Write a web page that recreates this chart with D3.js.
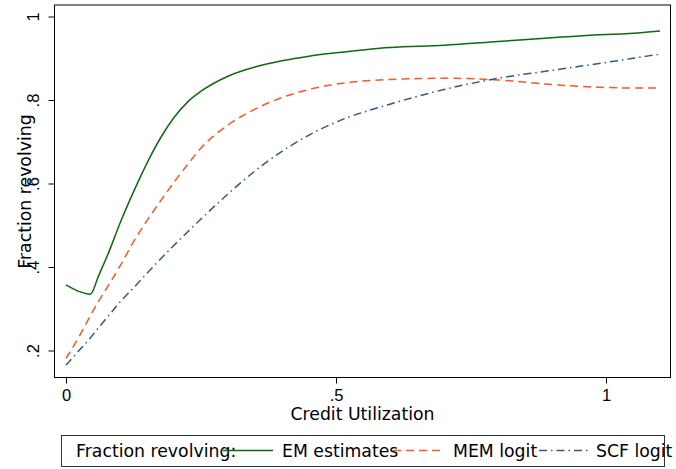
<!DOCTYPE html>
<html>
<head>
<meta charset="utf-8">
<script src="https://cdn.jsdelivr.net/npm/d3@7"></script>
<style>
  html, body { margin: 0; padding: 0; background: #fff; }
  svg { display: block; font-family: "DejaVu Sans", sans-serif; }
</style>
</head>
<body>
<svg id="chart" width="676" height="469"></svg>
<script>
// Credit utilization grid (x) and fitted fraction revolving per method
const utilization = [0, 0.025, 0.045, 0.06, 0.08, 0.1, 0.125, 0.15, 0.175, 0.2, 0.225, 0.25, 0.3, 0.35, 0.4, 0.45, 0.5, 0.6, 0.7, 0.8, 0.9, 1.0, 1.03, 1.1];
const emEstimates = [0.357, 0.341, 0.335, 0.378, 0.438, 0.505, 0.580, 0.649, 0.709, 0.758, 0.795, 0.821, 0.857, 0.879, 0.894, 0.905, 0.913, 0.926, 0.931, 0.940, 0.949, 0.957, 0.958, 0.965];
const memLogit    = [0.181, 0.235, 0.283, 0.317, 0.359, 0.402, 0.460, 0.511, 0.558, 0.603, 0.645, 0.685, 0.740, 0.778, 0.806, 0.825, 0.838, 0.849, 0.852, 0.848, 0.837, 0.830, 0.829, 0.829];
const scfLogit    = [0.165, 0.201, 0.230, 0.254, 0.285, 0.316, 0.350, 0.385, 0.419, 0.452, 0.484, 0.515, 0.575, 0.630, 0.677, 0.716, 0.747, 0.790, 0.825, 0.852, 0.871, 0.890, 0.896, 0.910];

const xTicks = [0, 0.5, 1];
const xTickLabels = ["0", ".5", "1"];
const yTicks = [0.2, 0.4, 0.6, 0.8, 1];
const yTickLabels = [".2", ".4", ".6", ".8", "1"];

const seriesNames = ["EM estimates", "MEM logit", "SCF logit"];
const seriesColors = ["#0e6a0e", "#ff5722", "#2f5b88"];
const seriesDash = [null, "8,5", "8,4,1.5,4"];
const seriesValues = [emEstimates, memLogit, scfLogit];

const svg = d3.select("#chart");
const textSize = 17.3;
const tickSize = 16.5;

// Plot region
const frame = { left: 54.5, top: 5.5, right: 670.5, bottom: 377.5 };

const x = d3.scaleLinear().domain([0, 1]).range([66, 606]);
const y = d3.scaleLinear().domain([0.2, 1]).range([350.5, 16.5]);

// Axes
const yAxis = d3.axisLeft(y).tickValues(yTicks).tickSize(6).tickFormat((d, i) => yTickLabels[i]);
const xAxis = d3.axisBottom(x).tickValues(xTicks).tickSize(6).tickFormat((d, i) => xTickLabels[i]);

const gy = svg.append("g").attr("transform", `translate(${frame.left},0)`).call(yAxis);
gy.select(".domain").remove();
gy.selectAll(".tick line").attr("stroke", "#000");
gy.selectAll(".tick text")
  .attr("font-size", tickSize)
  .attr("fill", "#000")
  .attr("text-anchor", "middle")
  .attr("x", null).attr("dy", null)
  .attr("transform", "translate(-16,0) rotate(-90)");

const gx = svg.append("g").attr("transform", `translate(0,${frame.bottom})`).call(xAxis);
gx.select(".domain").remove();
gx.selectAll(".tick line").attr("stroke", "#000");
gx.selectAll(".tick text")
  .attr("font-size", tickSize)
  .attr("fill", "#000")
  .attr("y", 23.5).attr("dy", null);

// Series lines
const line = d3.line().curve(d3.curveMonotoneX);
seriesValues.forEach((vals, i) => {
  svg.append("path")
    .attr("d", line(utilization.map((u, j) => [x(u), y(vals[j])])))
    .attr("fill", "none")
    .attr("stroke", seriesColors[i])
    .attr("stroke-width", 1.5)
    .attr("stroke-dasharray", seriesDash[i]);
});

// Plot frame
svg.append("rect")
  .attr("x", frame.left).attr("y", frame.top - 0.5)
  .attr("width", frame.right - frame.left)
  .attr("height", frame.bottom - frame.top + 0.5)
  .attr("fill", "none")
  .attr("stroke", "#000")
  .attr("stroke-width", 1);

// Axis titles
svg.append("text")
  .attr("x", 362.5).attr("y", 420)
  .attr("text-anchor", "middle")
  .attr("font-size", textSize)
  .text("Credit Utilization");

svg.append("text")
  .attr("transform", "translate(31,191.5) rotate(-90)")
  .attr("text-anchor", "middle")
  .attr("font-size", textSize)
  .text("Fraction revolving");

// Legend
const legend = svg.append("g");
legend.append("rect")
  .attr("x", 61.5).attr("y", 435.5)
  .attr("width", 603).attr("height", 31)
  .attr("fill", "#fff")
  .attr("stroke", "#333");

legend.append("text")
  .attr("x", 76).attr("y", 457)
  .attr("font-size", textSize)
  .text("Fraction revolving:");

const keyStart = [223, 393, 539];
const keyEnd = [273, 445, 588];
const labelStart = [282, 453, 596];
seriesNames.forEach((name, i) => {
  legend.append("line")
    .attr("x1", keyStart[i]).attr("x2", keyEnd[i])
    .attr("y1", 450.5).attr("y2", 450.5)
    .attr("stroke", seriesColors[i])
    .attr("stroke-width", 1.5)
    .attr("stroke-dasharray", seriesDash[i]);
  legend.append("text")
    .attr("x", labelStart[i]).attr("y", 457)
    .attr("font-size", textSize)
    .text(name);
});
</script>
</body>
</html>
